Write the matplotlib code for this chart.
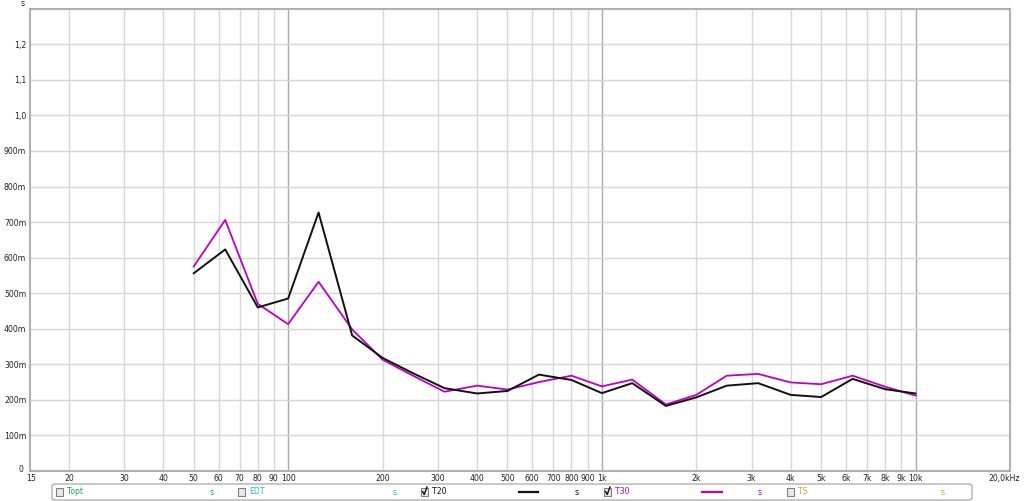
import matplotlib
matplotlib.use("Agg")
import matplotlib.pyplot as plt
import matplotlib.transforms as mtransforms
from matplotlib.patches import FancyBboxPatch, Rectangle
from matplotlib.lines import Line2D

# Data
freqs = [50, 63, 80, 100, 125, 160, 200, 250, 315, 400, 500, 630, 800, 1000,
         1250, 1600, 2000, 2500, 3150, 4000, 5000, 6300, 8000, 10000]
t20 = [0.556, 0.623, 0.460, 0.485, 0.727, 0.381, 0.318, 0.275, 0.233, 0.218, 0.225, 0.271,
       0.256, 0.219, 0.247, 0.183, 0.207, 0.240, 0.247, 0.214, 0.208, 0.259, 0.230, 0.218]
t30 = [0.575, 0.706, 0.470, 0.413, 0.532, 0.398, 0.313, 0.268, 0.223, 0.240, 0.229, 0.250,
       0.268, 0.238, 0.257, 0.187, 0.214, 0.268, 0.273, 0.249, 0.244, 0.268, 0.237, 0.212]

xticks = [15, 20, 30, 40, 50, 60, 70, 80, 90, 100, 200, 300, 400, 500, 600, 700, 800, 900,
          1000, 2000, 3000, 4000, 5000, 6000, 7000, 8000, 9000, 10000, 20000]
xticklabels = ["15", "20", "30", "40", "50", "60", "70", "80", "90", "100", "200", "300", "400",
               "500", "600", "700", "800", "900", "1k", "2k", "3k", "4k", "5k", "6k", "7k", "8k",
               "9k", "10k", "20,0kHz"]
yticks = [0, 0.1, 0.2, 0.3, 0.4, 0.5, 0.6, 0.7, 0.8, 0.9, 1.0, 1.1, 1.2]
yticklabels = ["0", "100m", "200m", "300m", "400m", "500m", "600m", "700m", "800m", "900m",
               "1,0", "1,1", "1,2"]

W, H = 1024, 501
FS = 5.6
fig = plt.figure(figsize=(W / 100, H / 100), dpi=100)
fig.patch.set_facecolor("white")
ax = fig.add_axes([29.7 / W, (H - 471) / H, (1010 - 29.7) / W, (471 - 8.7) / H])
ax.set_xscale("log")
ax.set_xlim(15, 20000)
ax.set_ylim(0, 1.3)

grid_c = "#d6d6d6"
major_c = "#a8a8a8"
for x in xticks[1:-1]:
    c = major_c if x in (100, 1000, 10000) else grid_c
    ax.axvline(x, color=c, lw=1.0, zorder=1)
for y in yticks[1:]:
    ax.axhline(y, color=grid_c, lw=1.0, zorder=1)

ax.plot(freqs, t30, color="#c000c0", lw=1.3, zorder=3)
ax.plot(freqs, t20, color="#111111", lw=1.4, zorder=4)

ax.set_xticks(xticks)
ax.set_xticklabels(xticklabels)
ax.xaxis.set_minor_locator(matplotlib.ticker.NullLocator())
ax.set_yticks(yticks)
ax.set_yticklabels(yticklabels)
ax.tick_params(length=0, labelsize=FS, colors="#222222")
ax.tick_params(axis="x", pad=2.5)
ax.tick_params(axis="y", pad=2.5)
# shift labels slightly like reference
lbls = ax.get_xticklabels()
lbls[-1].set_transform(lbls[-1].get_transform() +
                       mtransforms.ScaledTranslation(-6 / 100, 0, fig.dpi_scale_trans))
lbls[0].set_transform(lbls[0].get_transform() +
                      mtransforms.ScaledTranslation(1 / 100, 0, fig.dpi_scale_trans))
ylb = ax.get_yticklabels()
ylb[0].set_transform(ylb[0].get_transform() +
                     mtransforms.ScaledTranslation(-3 / 100, 2 / 100, fig.dpi_scale_trans))
for s in ax.spines.values():
    s.set_color("#b0b0b0")
    s.set_linewidth(1.5)
fig.text(23 / W, 1 - 4 / H, "s", fontsize=FS, ha="center", va="center", color="#222222")

# Legend box
def fx(px):
    return px / W

def fy(py):
    return 1 - py / H

box = FancyBboxPatch((fx(52), fy(500)), fx(972) - fx(52), fy(484) - fy(500),
                     boxstyle="round,pad=0,rounding_size=0.004", transform=fig.transFigure,
                     facecolor="white", edgecolor="#b0b0b0", lw=1.0)
fig.patches.append(box)

def checkbox(px, checked):
    r = Rectangle((fx(px), fy(496)), 7 / W, 8 / H, transform=fig.transFigure,
                  facecolor="#e8e8e8", edgecolor="#808080", lw=0.8)
    fig.patches.append(r)
    if checked:
        fig.lines.append(Line2D([fx(px + 1.5), fx(px + 3.2), fx(px + 6)],
                                [fy(491.5), fy(494.5), fy(487)], transform=fig.transFigure,
                                color="#111111", lw=1.0))

items = [
    (56, "Topt", "#22a050", 212, False, None),
    (238, "EDT", "#20b8d0", 395, False, None),
    (421, "T20", "#111111", 577, True, (519, 538)),
    (604, "T30", "#c000c0", 760, True, (702, 722)),
    (787, "TS", "#d0a020", 943, False, None),
]
for px, lab, col, spx, chk, ln in items:
    checkbox(px, chk)
    fig.text(fx(px + 11), fy(492), lab, fontsize=FS, color=col, ha="left", va="center")
    fig.text(fx(spx), fy(492.5), "s", fontsize=FS, color=col, ha="center", va="center")
    if ln:
        fig.lines.append(Line2D([fx(ln[0]), fx(ln[1])], [fy(492), fy(492)],
                                transform=fig.transFigure, color=col, lw=1.6))

fig.savefig("out.png", dpi=100)
